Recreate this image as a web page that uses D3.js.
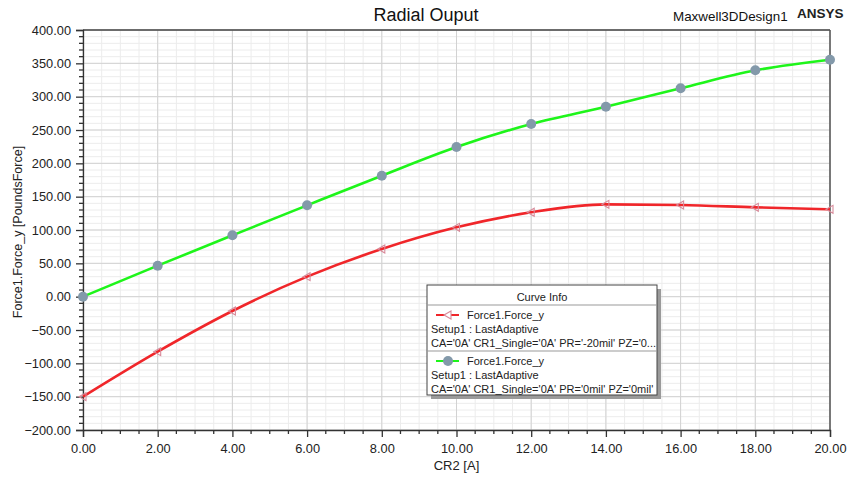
<!DOCTYPE html>
<html>
<head>
<meta charset="utf-8">
<script src="https://cdn.jsdelivr.net/npm/d3@7"></script>
<style>
  html, body { margin: 0; padding: 0; background: #fff; }
  svg { display: block; font-family: "Liberation Sans", Arial, sans-serif; }
</style>
</head>
<body>
<svg id="chart" width="849" height="477"></svg>
<script>
// Radial force vs. coil current, two rotor offsets
const cr2 = [0, 2, 4, 6, 8, 10, 12, 14, 16, 18, 20];
const forceOffset20 = [-150, -82.5, -21.5, 30, 71.5, 104, 126.6, 138.5, 137.5, 134, 131];
const forceOffset0 = [0, 46.5, 92, 137, 181.5, 224.5, 259, 285, 312.6, 339.5, 355.5];
const xTicks = [0, 2, 4, 6, 8, 10, 12, 14, 16, 18, 20];
const yTicks = [-200, -150, -100, -50, 0, 50, 100, 150, 200, 250, 300, 350, 400];
const legendLines = [
  ["Force1.Force_y", "Setup1 : LastAdaptive", "CA='0A' CR1_Single='0A' PR='-20mil' PZ='0..."],
  ["Force1.Force_y", "Setup1 : LastAdaptive", "CA='0A' CR1_Single='0A' PR='0mil' PZ='0mil'"]
];

const svg = d3.select("#chart");
const pLeft = 83, pRight = 830, pTop = 30, pBottom = 430;

const x = d3.scaleLinear().domain([0, 20]).range([pLeft, pRight]);
const y = d3.scaleLinear().domain([-200, 400]).range([pBottom, pTop]);

// grid: minor first, then major
const g = svg.append("g");
g.selectAll(".xminor").data(d3.range(0, 20.01, 0.5)).join("line")
  .attr("x1", d => x(d)).attr("x2", d => x(d)).attr("y1", pTop).attr("y2", pBottom)
  .attr("stroke", "#ececec").attr("stroke-width", 1);
g.selectAll(".yminor").data(d3.range(-200, 400.01, 10)).join("line")
  .attr("y1", d => y(d)).attr("y2", d => y(d)).attr("x1", pLeft).attr("x2", pRight)
  .attr("stroke", "#ececec").attr("stroke-width", 1);
g.selectAll(".xmajor").data(xTicks).join("line")
  .attr("x1", d => x(d)).attr("x2", d => x(d)).attr("y1", pTop).attr("y2", pBottom)
  .attr("stroke", "#d2d2d2").attr("stroke-width", 1);
g.selectAll(".ymajor").data(yTicks).join("line")
  .attr("y1", d => y(d)).attr("y2", d => y(d)).attr("x1", pLeft).attr("x2", pRight)
  .attr("stroke", "#d2d2d2").attr("stroke-width", 1);

// frame top/right
svg.append("line").attr("x1", pLeft).attr("x2", pRight).attr("y1", pTop).attr("y2", pTop)
  .attr("stroke", "#444").attr("stroke-width", 1.5);
svg.append("line").attr("x1", pRight).attr("x2", pRight).attr("y1", pTop).attr("y2", pBottom)
  .attr("stroke", "#555").attr("stroke-width", 1.5);

// axes
const xAxis = d3.axisBottom(x).tickValues(xTicks).tickFormat(d3.format(".2f")).tickSize(7).tickPadding(4);
const yAxis = d3.axisLeft(y).tickValues(yTicks).tickFormat(d3.format(".2f")).tickSize(7).tickPadding(5);
const xg = svg.append("g").attr("transform", `translate(0,${pBottom})`).call(xAxis);
const yg = svg.append("g").attr("transform", `translate(${pLeft},0)`).call(yAxis);
[xg, yg].forEach(a => {
  a.select(".domain").attr("stroke", "#333").attr("stroke-width", 1.3);
  a.selectAll(".tick line").attr("stroke", "#333").attr("stroke-width", 1.3);
  a.selectAll(".tick text").attr("fill", "#222").style("font-size", "12.8px")
    .style("font-family", "'Liberation Sans', Arial, sans-serif");
});
xg.selectAll(".tick text").attr("dy", "0.9em");
// minor ticks
svg.append("g").selectAll("line").data(d3.range(0, 20.01, 0.5).filter(d => d % 2 !== 0)).join("line")
  .attr("x1", d => x(d)).attr("x2", d => x(d)).attr("y1", pBottom).attr("y2", pBottom + 4)
  .attr("stroke", "#333").attr("stroke-width", 1.3);
svg.append("g").selectAll("line").data(d3.range(-200, 400.01, 10).filter(d => d % 50 !== 0)).join("line")
  .attr("y1", d => y(d)).attr("y2", d => y(d)).attr("x1", pLeft - 4).attr("x2", pLeft)
  .attr("stroke", "#333").attr("stroke-width", 1.3);

// axis titles
svg.append("text").attr("x", x(10)).attr("y", 470).attr("text-anchor", "middle")
  .style("font-size", "13px").attr("fill", "#222").text("CR2 [A]");
svg.append("text").attr("transform", `translate(22,${(pTop + pBottom) / 2 + 2}) rotate(-90)`)
  .attr("text-anchor", "middle").style("font-size", "12.5px").attr("fill", "#222")
  .text("Force1.Force_y [PoundsForce]");

// titles
svg.append("text").attr("x", 426).attr("y", 21).attr("text-anchor", "middle")
  .style("font-size", "18px").attr("fill", "#111").text("Radial Ouput");
svg.append("text").attr("x", 673).attr("y", 21).style("font-size", "13.4px").attr("fill", "#111")
  .text("Maxwell3DDesign1");
svg.append("text").attr("x", 797).attr("y", 18).style("font-size", "13.5px").style("font-weight", "bold")
  .attr("fill", "#222").text("ANSYS");

// series
const line = d3.line().x(d => x(d[0])).y(d => y(d[1])).curve(d3.curveMonotoneX);
const redData = cr2.map((c, i) => [c, forceOffset20[i]]);
const greenData = cr2.map((c, i) => [c, forceOffset0[i]]);

const plot = svg.append("g");
plot.append("path").datum(redData).attr("d", line).attr("fill", "none")
  .attr("stroke", "#f0262a").attr("stroke-width", 2.6);
plot.append("path").datum(greenData).attr("d", line).attr("fill", "none")
  .attr("stroke", "#1ef51a").attr("stroke-width", 2.6);

const tri = "M-4,0 L3,-4 L3,4 Z";
plot.selectAll(".tri").data(redData).join("path")
  .attr("d", tri).attr("transform", d => `translate(${x(d[0])},${y(d[1])})`)
  .attr("fill", "none").attr("stroke", "#d88a9a").attr("stroke-width", 1.1);
plot.selectAll(".dot").data(greenData).join("circle")
  .attr("cx", d => x(d[0])).attr("cy", d => y(d[1])).attr("r", 5)
  .attr("fill", "#8399aa");

// legend
const lx = 427, ly = 285, lw = 230, lh = 110;
const leg = svg.append("g");
leg.append("rect").attr("x", lx + 4).attr("y", ly + 4).attr("width", lw).attr("height", lh).attr("fill", "#9a9a9a");
leg.append("rect").attr("x", lx).attr("y", ly).attr("width", lw).attr("height", lh)
  .attr("fill", "#fff").attr("stroke", "#444").attr("stroke-width", 1);
leg.append("text").attr("x", lx + lw / 2).attr("y", ly + 16).attr("text-anchor", "middle")
  .style("font-size", "11px").attr("fill", "#222").text("Curve Info");
leg.append("line").attr("x1", lx).attr("x2", lx + lw).attr("y1", ly + 20).attr("y2", ly + 20)
  .attr("stroke", "#999");
leg.append("line").attr("x1", lx).attr("x2", lx + lw).attr("y1", ly + 66).attr("y2", ly + 66)
  .attr("stroke", "#999");

legendLines.forEach((lines, i) => {
  const by = ly + 34 + i * 46;
  const color = i === 0 ? "#f0262a" : "#1ef51a";
  leg.append("line").attr("x1", lx + 9).attr("x2", lx + 32).attr("y1", by - 4).attr("y2", by - 4)
    .attr("stroke", color).attr("stroke-width", 2);
  if (i === 0) {
    leg.append("path").attr("d", tri).attr("transform", `translate(${lx + 21},${by - 4})`)
      .attr("fill", "#fff").attr("stroke", "#d88a9a").attr("stroke-width", 1.1);
  } else {
    leg.append("circle").attr("cx", lx + 21).attr("cy", by - 4).attr("r", 5).attr("fill", "#8399aa");
  }
  leg.append("text").attr("x", lx + 40).attr("y", by).style("font-size", "11px").attr("fill", "#222").text(lines[0]);
  leg.append("text").attr("x", lx + 4).attr("y", by + 14).style("font-size", "11px").attr("fill", "#222").text(lines[1]);
  leg.append("text").attr("x", lx + 4).attr("y", by + 28).style("font-size", "11px").attr("fill", "#222").text(lines[2]);
});
</script>
</body>
</html>
